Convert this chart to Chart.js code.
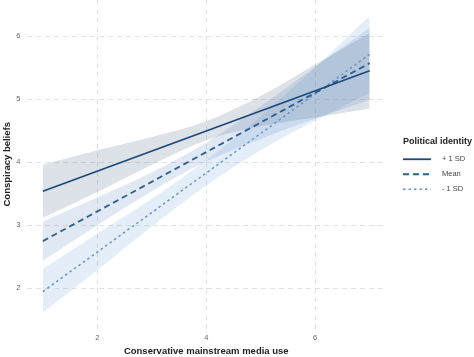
<!DOCTYPE html>
<html><head><meta charset="utf-8">
<script src="https://cdn.jsdelivr.net/npm/chart.js@4"></script>
<style>html,body{margin:0;padding:0;background:#fff;}#wrap{width:474px;height:357px;}</style>
</head><body><div id="wrap"><canvas id="c" width="474" height="357"></canvas></div>
<script>
// ---- data ----
const mediaUse = [1, 2, 3, 4, 5, 6, 7];          // x positions of band estimates
const lineEnds = [1, 7];                          // x range of fitted lines
const highLine = [3.54, 5.45];                    // +1 SD fitted line
const meanLine = [2.75, 5.57];                    // Mean fitted line
const lowLine  = [1.95, 5.71];                    // -1 SD fitted line
const highUpper = [3.96, 4.19, 4.40, 4.65, 5.05, 5.55, 6.05];
const highLower = [3.12, 3.53, 3.96, 4.35, 4.57, 4.71, 4.85];
const meanUpper = [3.06, 3.44, 3.84, 4.31, 4.89, 5.51, 6.13];
const meanLower = [2.44, 3.00, 3.54, 4.01, 4.37, 4.69, 4.99];
const lowUpper  = [2.31, 2.87, 3.42, 4.03, 4.73, 5.50, 6.32];
const lowLower  = [1.62, 2.29, 2.98, 3.63, 4.19, 4.66, 5.10];
const seriesNames = ['+ 1 SD', 'Mean', '- 1 SD'];
const legendTitle = 'Political identity';
const xTicks = [2, 4, 6];
const yTicks = [2, 3, 4, 5, 6];

const FONT = '"Liberation Sans", Arial, Helvetica, sans-serif';
const lineColors = ['#1b4a7b', '#2d5e90', '#6a94c3'];
const lineDashes = [[], [6, 4], [2.5, 3]];
const lineWidths = [1.8, 1.8, 1.5];
const bandColors = ['rgba(100,120,150,0.22)', 'rgba(110,150,200,0.22)', 'rgba(120,170,225,0.20)'];

const pts = (xs, ys) => xs.map((x, i) => ({x, y: ys[i]}));
const lines = [highLine, meanLine, lowLine];
const bands = [[highUpper, highLower], [meanUpper, meanLower], [lowUpper, lowLower]];

const datasets = [];
lines.forEach((l, i) => datasets.push({
  label: seriesNames[i], data: pts(lineEnds, l), borderColor: lineColors[i],
  borderWidth: lineWidths[i], borderDash: lineDashes[i], pointRadius: 0, fill: false, order: 0
}));
bands.forEach((b, i) => {
  datasets.push({ label: 'band_u' + i, data: pts(mediaUse, b[0]), borderWidth: 0, pointRadius: 0,
    backgroundColor: bandColors[i], fill: '+1', cubicInterpolationMode: 'monotone', order: 1 + i });
  datasets.push({ label: 'band_l' + i, data: pts(mediaUse, b[1]), borderWidth: 0, pointRadius: 0,
    fill: false, cubicInterpolationMode: 'monotone', order: 1 + i });
});

// legend drawn beside the plot (ggplot-style guide)
const sideLegend = {
  id: 'sideLegend',
  afterDraw(chart) {
    const ctx = chart.ctx;
    const x0 = chart.chartArea.right + 17;
    const yc = (chart.chartArea.top + chart.chartArea.bottom) / 2;
    ctx.save();
    ctx.textBaseline = 'middle';
    ctx.textAlign = 'left';
    ctx.fillStyle = '#222';
    ctx.font = 'bold 9px ' + FONT;
    ctx.fillText(legendTitle, x0, yc - 23);
    ctx.font = '7.5px ' + FONT;
    seriesNames.forEach((n, i) => {
      const y = yc - 5 + i * 15;
      ctx.strokeStyle = lineColors[i];
      ctx.lineWidth = lineWidths[i];
      ctx.setLineDash(lineDashes[i]);
      ctx.beginPath(); ctx.moveTo(x0, y); ctx.lineTo(x0 + 28, y); ctx.stroke();
      ctx.setLineDash([]);
      ctx.fillStyle = '#444';
      ctx.fillText(n, x0 + 39, y);
    });
    ctx.restore();
  }
};

new Chart(document.getElementById('c'), {
  type: 'line',
  data: { datasets },
  plugins: [sideLegend],
  options: {
    responsive: false, animation: false, devicePixelRatio: 1,
    layout: { padding: { left: 0, right: 88, top: 0, bottom: 0 } },
    plugins: { tooltip: { enabled: false }, legend: { display: false } },
    scales: {
      x: {
        type: 'linear', min: 0.7, max: 7.3,
        afterBuildTicks: s => { s.ticks = xTicks.map(v => ({value: v})); },
        afterFit: s => { s.height = 28.5; s.paddingLeft = 0; s.paddingRight = 0; },
        grid: { color: '#e2e2e2', drawTicks: false },
        border: { display: false, dash: [5, 4] },
        ticks: { padding: 5, color: '#666', font: { family: FONT, size: 7.5 } },
        title: { display: true, text: 'Conservative mainstream media use', color: '#222',
          font: { family: FONT, size: 9.5, weight: 'bold' }, padding: { top: 3, bottom: 0 } }
      },
      y: {
        type: 'linear', min: 1.365, max: 6.571,
        afterBuildTicks: s => { s.ticks = yTicks.map(v => ({value: v})); },
        afterFit: s => { s.width = 26.5; s.paddingTop = 0; s.paddingBottom = 0; },
        grid: { color: '#e2e2e2', drawTicks: false },
        border: { display: false, dash: [5, 4] },
        ticks: { padding: 6, color: '#666', font: { family: FONT, size: 7.5 } },
        title: { display: true, text: 'Conspiracy beliefs', color: '#222',
          font: { family: FONT, size: 9.5, weight: 'bold' }, padding: { top: 2, bottom: 2 } }
      }
    }
  }
});
</script></body></html>
